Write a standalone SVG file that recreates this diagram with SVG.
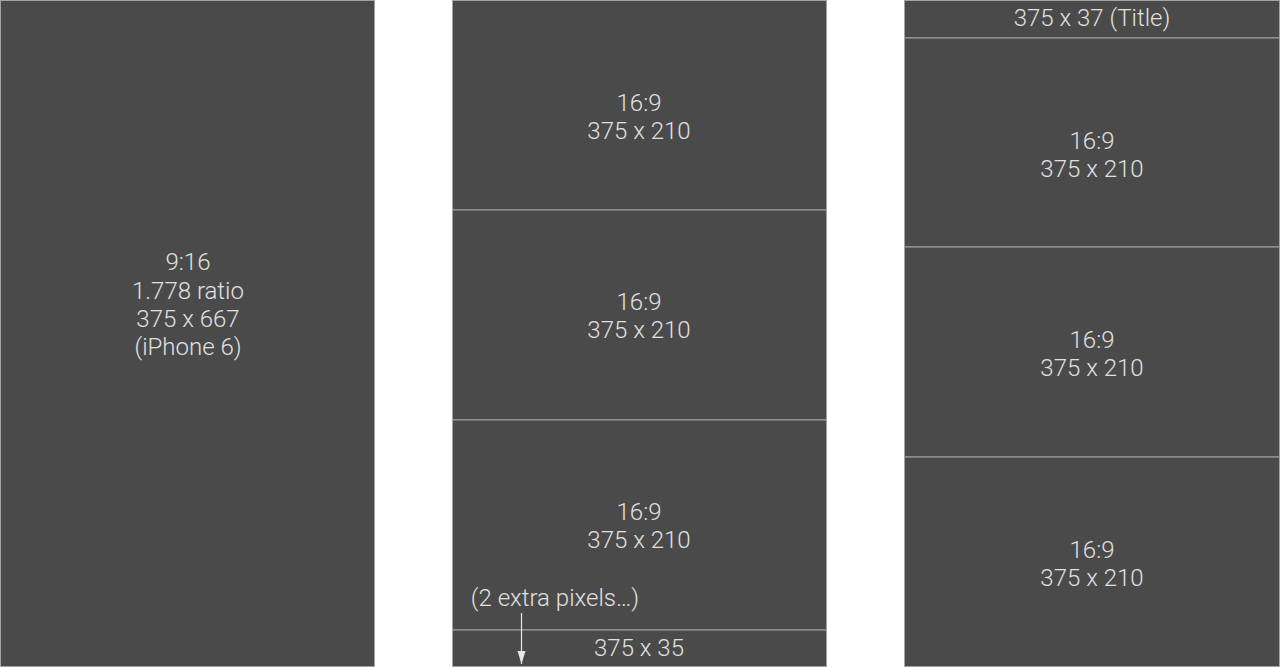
<svg xmlns="http://www.w3.org/2000/svg" width="1280" height="667" viewBox="0 0 1280 667">
<style>
.box{fill:#4a4a4a;stroke:#a3a3a3;stroke-width:1}
.t{font-family:Roboto,"Liberation Sans",sans-serif;font-weight:300;font-size:24px;fill:#e0e0e0;text-anchor:middle}
</style>
<defs>
<marker id="ah" markerWidth="14" markerHeight="10" refX="13" refY="5" orient="auto" markerUnits="userSpaceOnUse">
<path d="M0,1 L13,5 L0,9 Z" fill="#e8e8e8"/>
</marker>
</defs>
<rect width="1280" height="667" fill="#ffffff"/>
<g id="phone">
<rect class="box" x="0.5" y="0.5" width="374" height="666"/>
<text class="t" x="188" y="270">9:16</text>
<text class="t" x="188" y="299">1.778 ratio</text>
<text class="t" x="188" y="327">375 x 667</text>
<text class="t" x="188" y="355">(iPhone 6)</text>
</g>
<g id="col2-a">
<rect class="box" x="452.5" y="0.5" width="374" height="209.5"/>
<text class="t" x="639" y="111">16:9</text>
<text class="t" x="639" y="139">375 x 210</text>
</g>
<g id="col2-b">
<rect class="box" x="452.5" y="210" width="374" height="210"/>
<text class="t" x="639" y="310">16:9</text>
<text class="t" x="639" y="338">375 x 210</text>
</g>
<g id="col2-c">
<rect class="box" x="452.5" y="420" width="374" height="210"/>
<text class="t" x="639" y="520">16:9</text>
<text class="t" x="639" y="548">375 x 210</text>
<text class="t" x="555" y="606">(2 extra pixels…)</text>
</g>
<g id="col2-d">
<rect class="box" x="452.5" y="630" width="374" height="36.5"/>
<text class="t" x="639" y="656">375 x 35</text>
</g>
<g id="col3-title">
<rect class="box" x="904.5" y="0.5" width="375" height="37.5"/>
<text class="t" x="1092" y="26">375 x 37 (Title)</text>
</g>
<g id="col3-a">
<rect class="box" x="904.5" y="38" width="375" height="209"/>
<text class="t" x="1092" y="149">16:9</text>
<text class="t" x="1092" y="177">375 x 210</text>
</g>
<g id="col3-b">
<rect class="box" x="904.5" y="247" width="375" height="210"/>
<text class="t" x="1092" y="348">16:9</text>
<text class="t" x="1092" y="376">375 x 210</text>
</g>
<g id="col3-c">
<rect class="box" x="904.5" y="457" width="375" height="209.5"/>
<text class="t" x="1092" y="558">16:9</text>
<text class="t" x="1092" y="586">375 x 210</text>
</g>
<g id="connectors">
<line x1="521.5" y1="613" x2="521.5" y2="664" stroke="#e8e8e8" stroke-width="1.2" marker-end="url(#ah)"/>
</g>
</svg>
